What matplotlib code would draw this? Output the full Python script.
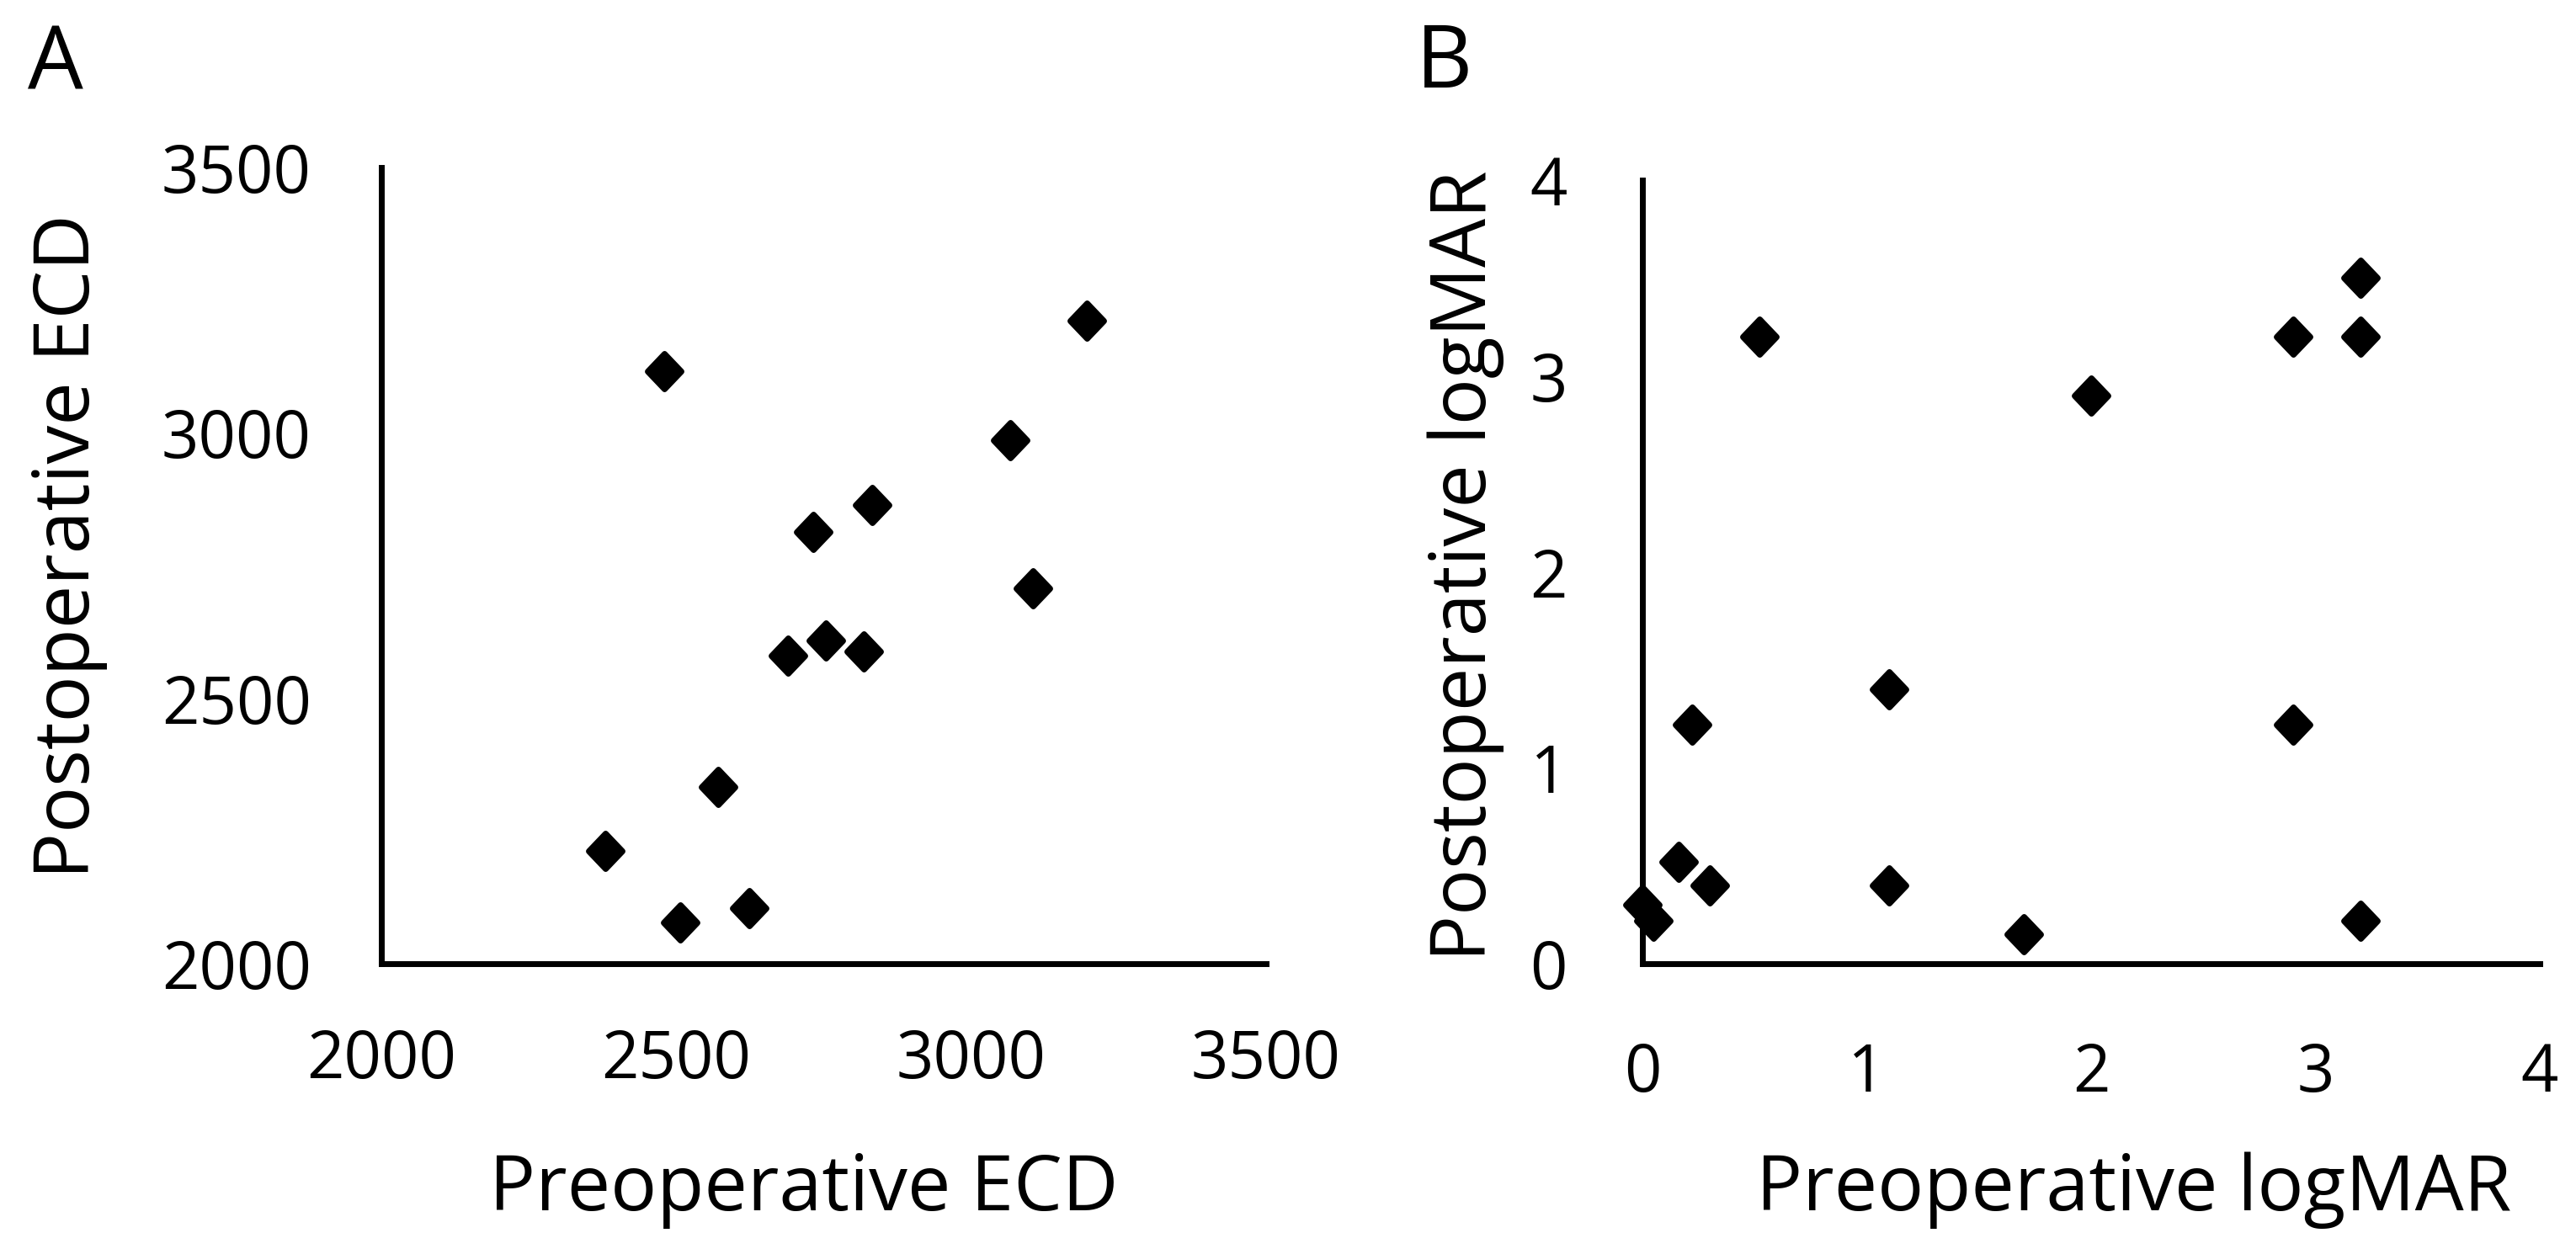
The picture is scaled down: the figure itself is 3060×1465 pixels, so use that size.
import matplotlib
matplotlib.use("Agg")
import matplotlib.pyplot as plt
from matplotlib.markers import MarkerStyle
from matplotlib.transforms import Affine2D

plt.rcParams['font.family'] = ['Open Sans', 'DejaVu Sans']

# Panel A: endothelial cell density
pre_ecd = [2480, 3196, 3066, 2832, 2732, 3105, 2754, 2689, 2818, 2571, 2380, 2506, 2624]
post_ecd = [3117, 3212, 2986, 2864, 2814, 2707, 2609, 2581, 2588, 2333, 2212, 2077, 2105]
ecd_ticks = [2000, 2500, 3000, 3500]

# Panel B: logMAR visual acuity
pre_logmar = [0.52, 2.0, 2.9, 3.2, 3.2, 0.22, 1.1, 2.9, 0.16, 0.3, 1.1, 0.0, 0.05, 1.7, 3.2]
post_logmar = [3.2, 2.9, 3.2, 3.5, 3.2, 1.22, 1.4, 1.22, 0.52, 0.4, 0.4, 0.3, 0.22, 0.15, 0.22]
logmar_ticks = [0, 1, 2, 3, 4]

W, H = 3060, 1465
fig = plt.figure(figsize=(W / 100, H / 100), dpi=100)

def frac(x0, y0, x1, y1):
    return [x0 / W, 1 - y1 / H, (x1 - x0) / W, (y1 - y0) / H]

axA = fig.add_axes(frac(453, 199, 1504, 1145))
axB = fig.add_axes(frac(1951, 214, 3017, 1145))

mk = MarkerStyle('D', joinstyle='round', transform=Affine2D().scale(1.0, 1.08))

def style(ax, xpad, ypad):
    for s in ['top', 'right']:
        ax.spines[s].set_visible(False)
    for s in ['left', 'bottom']:
        ax.spines[s].set_linewidth(5)
        ax.spines[s].set_capstyle('projecting')
    ax.tick_params(axis='x', length=0, labelsize=56, pad=xpad)
    ax.tick_params(axis='y', length=0, labelsize=56, pad=ypad)

axA.plot(pre_ecd, post_ecd, linestyle='none', marker=mk, markersize=20,
         color='black', markeredgewidth=5, clip_on=False)
axA.set_xlim(2000, 3500)
axA.set_ylim(2000, 3500)
axA.set_xticks(ecd_ticks)
axA.set_yticks(ecd_ticks)
style(axA, 55, 60)

axB.plot(pre_logmar, post_logmar, linestyle='none', marker=mk, markersize=20,
         color='black', markeredgewidth=5, clip_on=False)
axB.set_xlim(0, 4)
axB.set_ylim(0, 4)
axB.set_xticks(logmar_ticks)
axB.set_yticks(logmar_ticks)
style(axB, 66, 64)

lab = 66
fig.text(33 / W, 1 - 107 / H, 'A', fontsize=75, ha='left', va='baseline')
fig.text(1682 / W, 1 - 104 / H, 'B', fontsize=75, ha='left', va='baseline')

fig.text(955 / W, 1 - 1438 / H, 'Preoperative ECD', fontsize=lab, ha='center', va='baseline')
fig.text(2535 / W, 1 - 1438 / H, 'Preoperative logMAR', fontsize=lab, ha='center', va='baseline')
fig.text(106 / W, 1 - 649 / H, 'Postoperative ECD', fontsize=lab, ha='center', va='baseline',
         rotation=90, rotation_mode='anchor')
fig.text(1765 / W, 1 - 672 / H, 'Postoperative logMAR', fontsize=lab, ha='center', va='baseline',
         rotation=90, rotation_mode='anchor')

fig.savefig('out.png', dpi=100, facecolor='white')
